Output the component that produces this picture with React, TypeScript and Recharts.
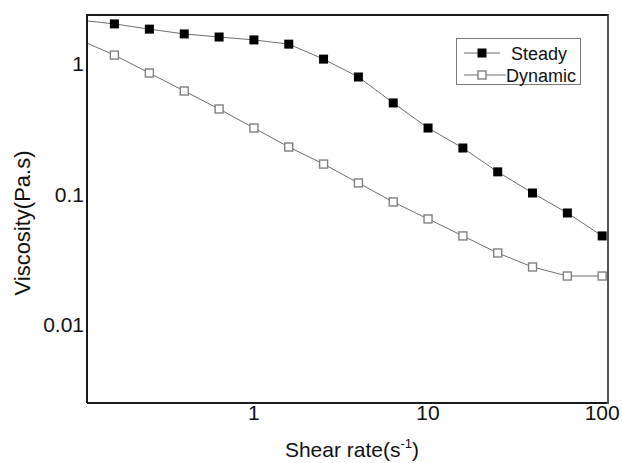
import { Label, Line, LineChart, XAxis, YAxis } from "recharts";

// shear rate (1/s), log spaced 0.2 decades
const shearRate = [0.1, 0.158, 0.251, 0.398, 0.631, 1, 1.585, 2.512, 3.981, 6.31, 10, 15.85, 25.12, 39.81, 63.1, 100];
const steady = [2.17, 2.03, 1.85, 1.7, 1.61, 1.53, 1.42, 1.09, 0.795, 0.503, 0.323, 0.227, 0.149, 0.1026, 0.0721, 0.0481];
const dynamic = [1.53, 1.17, 0.853, 0.621, 0.452, 0.323, 0.231, 0.171, 0.1225, 0.0876, 0.0649, 0.0481, 0.0356, 0.0278, 0.0237, 0.0237];

const xTicks = [1, 10, 100];
const yTicks = [0.01, 0.1, 1];

const data = shearRate.map((x, i) => ({ x, steady: steady[i], dynamic: dynamic[i] }));

const FONT = "'Liberation Sans', Arial, sans-serif";
const LINE_COLOR = "#6e6e6e";
const AXIS_COLOR = "#1a1a1a";

function SteadyDot(props: any) {
  const { cx, cy, key } = props;
  if (cx == null || cy == null) return <g key={key} />;
  return <rect key={key} x={cx - 4.5} y={cy - 4.5} width={9} height={9} fill="#000" />;
}

function DynamicDot(props: any) {
  const { cx, cy, key } = props;
  if (cx == null || cy == null) return <g key={key} />;
  return <rect key={key} x={cx - 4} y={cy - 4} width={8} height={8} fill="#fff" stroke="#808080" strokeWidth={1.4} />;
}

function LegendBox() {
  return (
    <svg width={126} height={48} style={{ display: "block" }}>
      <rect x={0.5} y={0.5} width={124} height={46} fill="#fff" stroke="#7a7a7a" strokeWidth={1} />
      <line x1={8} x2={44} y1={15} y2={15} stroke={LINE_COLOR} strokeWidth={1} />
      <rect x={21.5} y={10.5} width={9} height={9} fill="#000" />
      <text x={55} y={21.5} fontFamily={FONT} fontSize={18} fill="#111">Steady</text>
      <line x1={8} x2={50} y1={37} y2={37} stroke={LINE_COLOR} strokeWidth={1} />
      <rect x={22} y={33} width={8} height={8} fill="#fff" stroke="#808080" strokeWidth={1.4} />
      <text x={50} y={43.5} fontFamily={FONT} fontSize={18} fill="#111">Dynamic</text>
    </svg>
  );
}

function XTitle() {
  return (
    <text x={352} y={457} textAnchor="middle" fontFamily={FONT} fontSize={21} fill="#111">
      Shear rate(s
      <tspan fontSize={13} dy={-9}>-1</tspan>
      <tspan dy={9}>)</tspan>
    </text>
  );
}

function YTitle() {
  return (
    <text
      x={30}
      y={223}
      transform="rotate(-90 30 223)"
      textAnchor="middle"
      fontFamily={FONT}
      fontSize={22}
      fill="#111"
    >
      Viscosity(Pa.s)
    </text>
  );
}

export default function App() {
  return (
    <div style={{ position: "absolute", left: 0, top: 0, width: 622, height: 463, background: "#fff" }}>
      <LineChart width={622} height={463} data={data} margin={{ top: 15, right: 14, bottom: 0, left: 0 }}>
        <XAxis
          dataKey="x"
          type="number"
          scale="log"
          domain={[0.11, 108]}
          allowDataOverflow
          ticks={xTicks}
          tickLine={false}
          tickSize={0}
          tickMargin={2}
          height={60}
          axisLine={{ stroke: AXIS_COLOR, strokeWidth: 2 }}
          tick={{ fontFamily: FONT, fontSize: 21, fill: "#111" }}
          label={<Label content={() => <XTitle />} />}
        />
        <YAxis
          type="number"
          scale="log"
          domain={[0.00252, 2.375]}
          allowDataOverflow
          ticks={yTicks}
          tickLine={false}
          tickSize={0}
          tickMargin={3}
          width={87}
          axisLine={{ stroke: AXIS_COLOR, strokeWidth: 2 }}
          tick={{ fontFamily: FONT, fontSize: 21, fill: "#111" }}
          label={<Label content={() => <YTitle />} />}
        />
        <Line
          type="linear"
          dataKey="steady"
          stroke={LINE_COLOR}
          strokeWidth={1}
          dot={SteadyDot}
          activeDot={false}
          isAnimationActive={false}
        />
        <Line
          type="linear"
          dataKey="dynamic"
          stroke={LINE_COLOR}
          strokeWidth={1}
          dot={DynamicDot}
          activeDot={false}
          isAnimationActive={false}
        />
      </LineChart>
      {/* plot frame, top and right edges */}
      <div
        style={{
          position: "absolute",
          left: 86,
          top: 14,
          width: 521,
          height: 388,
          borderTop: `2px solid ${AXIS_COLOR}`,
          borderRight: "2px solid #555",
          pointerEvents: "none",
        }}
      />
      <div style={{ position: "absolute", left: 456, top: 38 }}>
        <LegendBox />
      </div>
    </div>
  );
}
